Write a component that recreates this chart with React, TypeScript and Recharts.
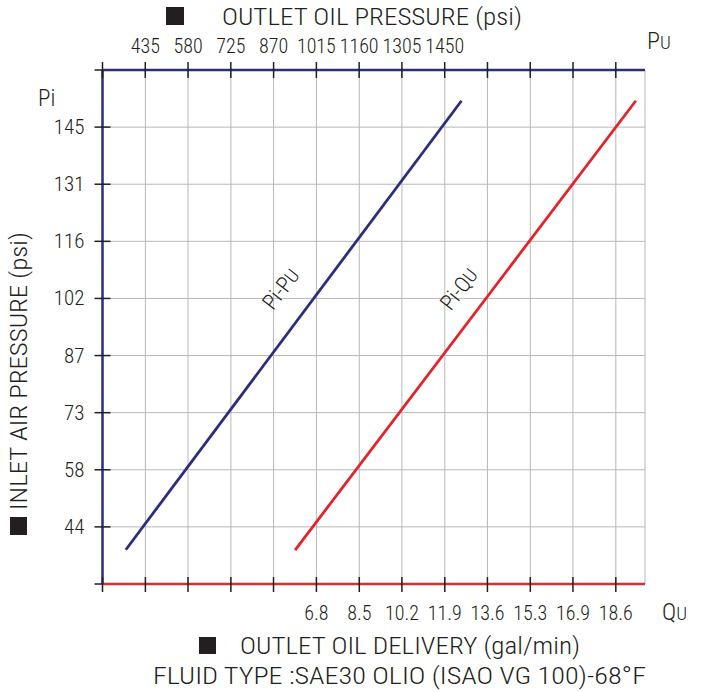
import React from 'react';
import { ComposedChart, Line, XAxis, YAxis, CartesianGrid, ReferenceDot } from 'recharts';

// top axis: outlet oil pressure Pu (psi)
const puTicks = [290, 435, 580, 725, 870, 1015, 1160, 1305, 1450, 1595, 1740, 1885, 2030];
const puLabels = ['', '435', '580', '725', '870', '1015', '1160', '1305', '1450', '', '', '', ''];

// bottom axis: outlet oil delivery Qu (gal/min)
const quTicks = [-1.63, 0.06, 1.74, 3.43, 5.11, 6.8, 8.49, 10.17, 11.86, 13.54, 15.23, 16.91, 18.6];
const quLabels = ['', '', '', '', '', '6.8', '8.5', '10.2', '11.9', '13.6', '15.3', '16.9', '18.6'];

// left axis: inlet air pressure Pi (psi)
const piTicks = [29, 43.5, 58, 72.5, 87, 101.5, 116, 130.5, 145, 159.5];
const piLabels = ['', '44', '58', '73', '87', '102', '116', '131', '145', ''];

const piPuCurve = [
  { pu: 369, pi: 37.7 },
  { pu: 1507, pi: 151.7 },
];
const piQuCurve = [
  { qu: 5.96, pi: 37.6 },
  { qu: 19.39, pi: 151.7 },
];

const FONT = "'Roboto Condensed', 'Liberation Sans Narrow', 'DejaVu Sans Condensed', 'Liberation Sans', sans-serif";
const NAVY = '#2b2e7e';
const RED = '#e3232a';
const INK = '#231f20';

const TopTick = (props: any) => {
  const { x, y, payload } = props;
  const label = puLabels[puTicks.indexOf(payload.value)];
  return (
    <g>
      <line x1={x} x2={x} y1={y - 8} y2={y + 8} stroke={INK} strokeWidth={1.5} />
      <text x={x} y={y - 17} textAnchor="middle" fontSize={20} fontWeight={300} fontFamily={FONT} fill={INK}>{label}</text>
    </g>
  );
};

const BottomTick = (props: any) => {
  const { x, y, payload } = props;
  const label = quLabels[quTicks.indexOf(payload.value)];
  return (
    <g>
      <line x1={x} x2={x} y1={y - 7} y2={y + 8} stroke={INK} strokeWidth={1.5} />
      <text x={x} y={y + 36} textAnchor="middle" fontSize={20} fontWeight={300} fontFamily={FONT} fill={INK}>{label}</text>
    </g>
  );
};

const LeftTick = (props: any) => {
  const { x, y, payload } = props;
  const i = piTicks.indexOf(payload.value);
  const edge = i === 0 || i === piTicks.length - 1;
  return (
    <g>
      <line x1={x - 8} x2={edge ? x : x + 8} y1={y} y2={y} stroke={INK} strokeWidth={1.5} />
      <text x={x - 18} y={y + 7} textAnchor="end" fontSize={21} fontWeight={300} fontFamily={FONT} fill={INK}>{piLabels[i]}</text>
    </g>
  );
};

const CurveLabel = ({ cx, cy, main, sub }: any) => (
  <text x={cx} y={cy} transform={`rotate(-52 ${cx} ${cy})`} textAnchor="middle" dominantBaseline="central"
    fontSize={22} fontWeight={300} fontFamily={FONT} fill={INK}>
    {main}<tspan fontSize={19}>{sub}</tspan>
  </text>
);

export default function App() {
  return (
    <div style={{ position: 'absolute', left: 0, top: 0, width: 717, height: 692, background: '#fff' }}>
      <ComposedChart width={717} height={692} margin={{ top: 30, right: 72, bottom: 68, left: 42.5 }}>
        <CartesianGrid xAxisId="qu" stroke="#b8b8b8" strokeWidth={1} />
        <XAxis xAxisId="pu" dataKey="pu" type="number" orientation="top" height={40}
          domain={[290, 2129]} ticks={puTicks} interval={0} allowDataOverflow
          axisLine={{ stroke: NAVY, strokeWidth: 2.5 }} tickLine={false} tickSize={0} tickMargin={0}
          tick={<TopTick />} />
        <XAxis xAxisId="qu" dataKey="qu" type="number" orientation="bottom" height={40}
          domain={[-1.63, 19.75]} ticks={quTicks} interval={0} allowDataOverflow
          axisLine={{ stroke: '#d3302f', strokeWidth: 2.5 }} tickLine={false} tickSize={0} tickMargin={0}
          tick={<BottomTick />} />
        <YAxis type="number" width={60} domain={[29, 159.5]} ticks={piTicks} interval={0} allowDataOverflow
          axisLine={{ stroke: NAVY, strokeWidth: 2.5 }} tickLine={false} tickSize={0} tickMargin={0}
          tick={<LeftTick />} />
        <Line xAxisId="pu" data={piPuCurve} dataKey="pi" stroke={NAVY} strokeWidth={2.8}
          dot={false} activeDot={false} isAnimationActive={false} />
        <Line xAxisId="qu" data={piQuCurve} dataKey="pi" stroke={RED} strokeWidth={2.8}
          dot={false} activeDot={false} isAnimationActive={false} />
        <ReferenceDot xAxisId="pu" x={895} y={103.9} r={0}
          shape={(p: any) => <CurveLabel cx={p.cx} cy={p.cy} main="Pi-P" sub="U" />} />
        <ReferenceDot xAxisId="qu" x={12.42} y={103.9} r={0}
          shape={(p: any) => <CurveLabel cx={p.cx} cy={p.cy} main="Pi-Q" sub="U" />} />
      </ComposedChart>
      <svg width={717} height={692} style={{ position: 'absolute', left: 0, top: 0, pointerEvents: 'none' }}
        fontFamily={FONT} fontWeight={300} fill={INK}>
        <rect x={166} y={7} width={18} height={18} fill={INK} />
        <text x={222} y={25} fontSize={23} textLength={300} lengthAdjust="spacingAndGlyphs">OUTLET OIL PRESSURE (psi)</text>
        <text x={647} y={49} fontSize={24}>P<tspan fontSize={19}>U</tspan></text>
        <text x={38} y={106} fontSize={23}>Pi</text>
        <rect x={10} y={517} width={17} height={18} fill={INK} />
        <text transform="translate(27 510) rotate(-90)" x={0} y={0} fontSize={23} textLength={278}
          lengthAdjust="spacingAndGlyphs">INLET AIR PRESSURE (psi)</text>
        <text x={662} y={620} fontSize={24}>Q<tspan fontSize={19}>U</tspan></text>
        <rect x={199} y={637} width={17} height={17} fill={INK} />
        <text x={240} y={654} fontSize={23} textLength={340} lengthAdjust="spacingAndGlyphs">OUTLET OIL DELIVERY (gal/min)</text>
        <text x={153} y={684} fontSize={23} textLength={493} lengthAdjust="spacingAndGlyphs">FLUID TYPE :SAE30 OLIO (ISAO VG 100)-68°F</text>
      </svg>
    </div>
  );
}
